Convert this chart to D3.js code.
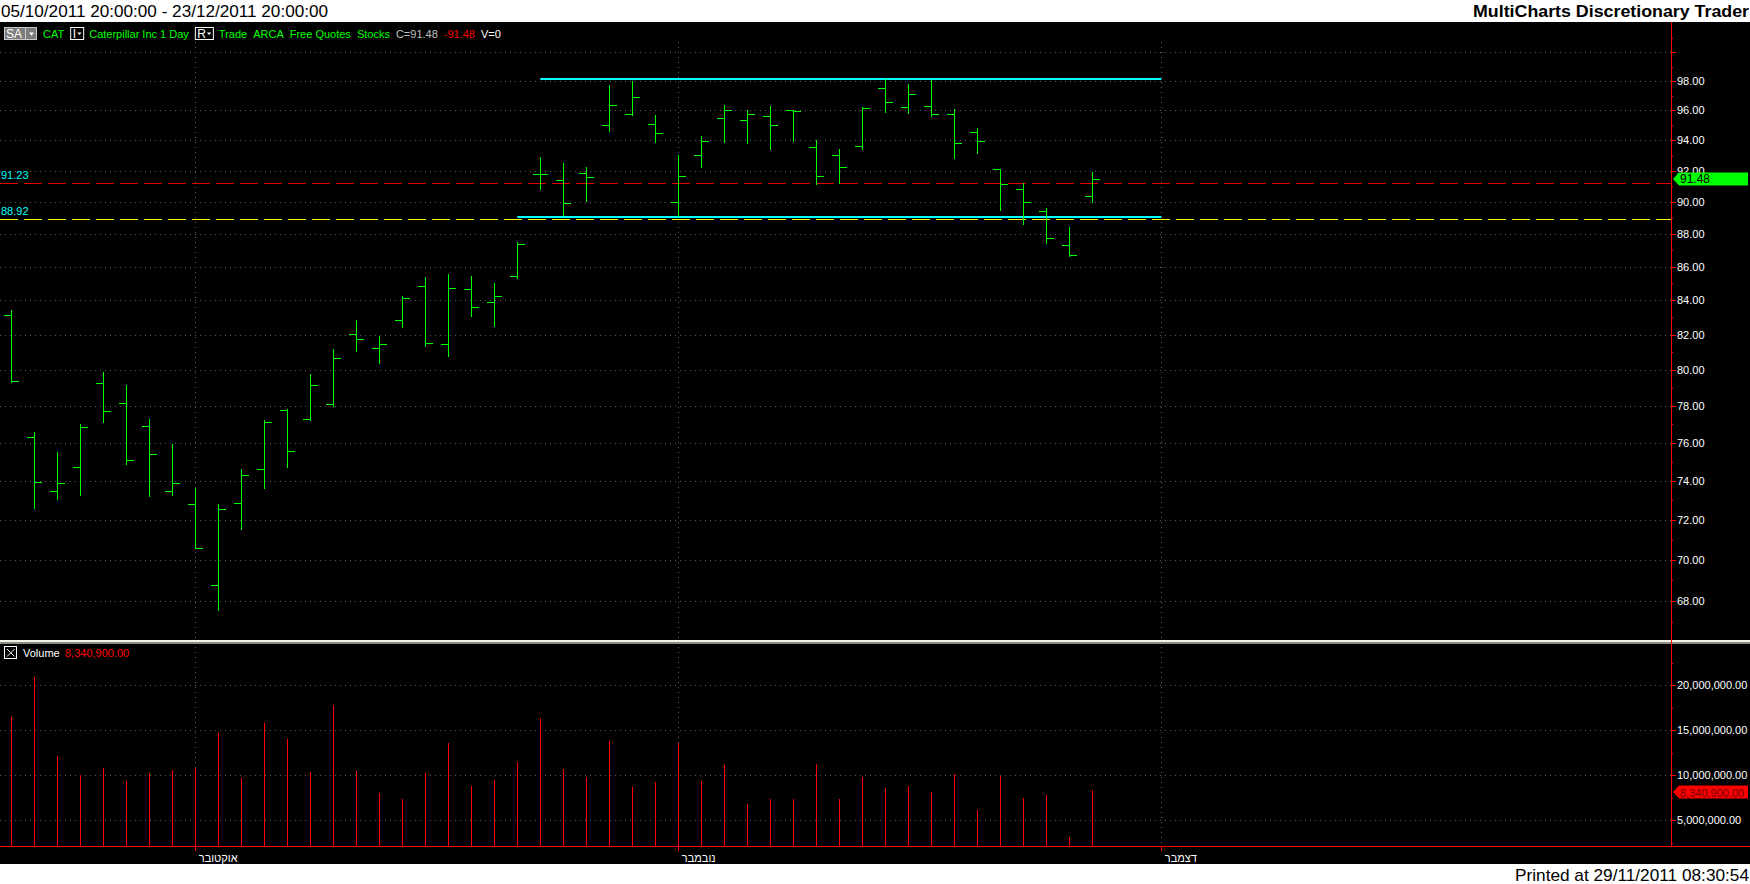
<!DOCTYPE html>
<html>
<head>
<meta charset="utf-8">
<script src="https://cdn.jsdelivr.net/npm/d3@7"></script>
<style>
    body { margin: 0; background: #fff; overflow: hidden; }
    svg { display: block; }
    text { font-family: "Liberation Sans", Arial, sans-serif; }
</style>
</head>
<body>
<svg id="chart"></svg>
<script>
(function () {

    // CAT daily bars, 21/09/2011 .. 28/11/2011
    var dates = [
        "2011-09-21", "2011-09-22", "2011-09-23", "2011-09-26", "2011-09-27", "2011-09-28", "2011-09-29", "2011-09-30",
        "2011-10-03", "2011-10-04", "2011-10-05", "2011-10-06", "2011-10-07", "2011-10-10", "2011-10-11", "2011-10-12",
        "2011-10-13", "2011-10-14", "2011-10-17", "2011-10-18", "2011-10-19", "2011-10-20", "2011-10-21", "2011-10-24",
        "2011-10-25", "2011-10-26", "2011-10-27", "2011-10-28", "2011-10-31", "2011-11-01", "2011-11-02", "2011-11-03",
        "2011-11-04", "2011-11-07", "2011-11-08", "2011-11-09", "2011-11-10", "2011-11-11", "2011-11-14", "2011-11-15",
        "2011-11-16", "2011-11-17", "2011-11-18", "2011-11-21", "2011-11-22", "2011-11-23", "2011-11-25", "2011-11-28"
    ];
    // trading days after the last bar, still on the time axis
    var futureDates = ["2011-11-29", "2011-11-30", "2011-12-01"];

    var opens = [83.12, 76.29, 73.46, 74.70, 79.25, 78.14, 76.88, 73.46, 72.78, 68.76, 72.83, 74.60, 77.76, 77.27, 78.08, 82.02,
                 81.22, 82.84, 84.83, 81.45, 84.65, 83.89, 85.44, 91.78, 91.40, 91.84, 95.00, 95.73, 95.06, 89.99, 93.01, 95.47,
                 95.33, 95.60, 96.00, 93.54, 93.01, 93.60, 97.50, 96.20, 96.27, 95.73, 94.53, 92.10, 90.82, 89.42, 87.31, 90.37];
    var highs = [83.44, 76.57, 75.51, 77.01, 79.88, 79.16, 77.28, 75.93, 73.63, 72.79, 74.61, 77.22, 77.83, 79.77, 81.17, 82.85,
                 81.92, 84.26, 85.39, 85.57, 85.46, 85.03, 87.51, 92.90, 92.51, 92.26, 97.73, 98.00, 95.69, 93.03, 94.29, 96.37,
                 96.02, 96.29, 96.00, 94.02, 93.43, 96.22, 98.12, 97.79, 98.07, 96.09, 94.82, 92.10, 91.20, 89.63, 88.44, 91.92];
    var lows = [79.28, 72.54, 73.01, 73.21, 77.08, 74.84, 73.18, 73.23, 70.52, 67.54, 71.49, 73.59, 74.68, 77.17, 77.95, 81.00,
                80.33, 82.38, 81.29, 80.72, 83.03, 82.44, 85.29, 90.78, 89.13, 90.01, 94.57, 95.64, 93.85, 89.09, 92.21, 93.85,
                93.78, 93.38, 93.91, 91.11, 91.18, 93.38, 95.84, 95.77, 95.57, 92.78, 93.12, 89.46, 88.58, 87.41, 86.62, 89.97];
    var closes = [79.36, 73.92, 73.87, 76.83, 77.71, 75.07, 75.39, 73.87, 70.57, 72.53, 74.28, 77.11, 75.55, 79.14, 80.64, 81.73,
                  81.45, 84.12, 81.51, 84.71, 83.59, 84.24, 87.37, 91.78, 89.93, 91.58, 96.35, 96.88, 94.46, 91.65, 93.93, 96.00,
                  95.73, 95.00, 95.93, 91.65, 92.23, 96.14, 96.54, 97.09, 95.73, 93.81, 93.93, 91.14, 89.99, 87.75, 86.70, 91.48];
    var volumes = [16410000, 20890000, 12110000, 9960000, 10780000, 9330000, 10190000, 10560000, 10780000, 14670000,
                   9670000, 15780000, 14000000, 10330000, 17780000, 10440000, 8000000, 7330000, 10190000, 13560000,
                   8780000, 9440000, 11440000, 16330000, 10670000, 9780000, 13780000, 8670000, 9220000, 13560000,
                   9330000, 11110000, 6780000, 7330000, 7330000, 11220000, 7330000, 9780000, 8560000, 8780000,
                   8110000, 10110000, 6110000, 9890000, 7440000, 7780000, 3110000, 8340900];

    // drawings on the chart
    var channelFrom = ["2011-10-24", "2011-10-21"];
    var channelTo = ["2011-12-01", "2011-12-01"];
    var channelPrice = [98.16, 89.09];
    var levelPrice = [91.23, 88.92];

    // axes
    var priceLabels = [66, 68, 70, 72, 74, 76, 78, 80, 82, 84, 86, 88, 90, 92, 94, 96, 98];
    var priceGrid = [68, 70, 72, 74, 76, 78, 80, 82, 84, 86, 88, 90, 92, 94, 96, 98, 100];
    var priceMinor = [67, 69, 71, 73, 75, 77, 79, 81, 83, 85, 87, 89, 91, 93, 95, 97, 99, 101];
    var volumeTicks = [5000000, 10000000, 15000000, 20000000];
    var volumeMinor = [2500000, 7500000, 12500000, 17500000, 22500000];
    var monthNames = {"10": "אוקטובר", "11": "נובמבר", "12": "דצמבר"};

    var titleText = "05/10/2011 20:00:00 - 23/12/2011 20:00:00",
        appText = "MultiCharts Discretionary Trader",
        printedText = "Printed at 29/11/2011 08:30:54";
    var toolbarItems = ["CAT", "|I", "Caterpillar Inc 1 Day", "|R", "Trade", "ARCA", "Free Quotes", "Stocks",
                        "C=91.48", "-91.48", "V=0"];


    var W = 1750, H = 884,
        axisX = 1671,
        paneTop = 22,
        sepY = 640,
        volBottom = 846,
        footerTop = 864,
        green = "#00ff00",
        grid = "#5c5c5c";

    var allDates = dates.concat(futureDates);
    function bar(d) { return allDates.indexOf(d); }

    var monthBars = [], monthLabels = [];
    allDates.forEach(function (d, i) {
        var m = d.slice(5, 7);
        if (i > 0 && allDates[i - 1].slice(5, 7) !== m && monthNames[m]) {
            monthBars.push(i);
            monthLabels.push(monthNames[m]);
        }
    });

    var x = d3.scaleLinear().domain([0, dates.length - 1]).range([11.3, 1092.3]),
        y = d3.scaleLog().domain([68, 98]).range([601, 81]),
        yv = d3.scaleLinear().domain([5000000, 20000000]).range([820, 685]);

    var svg = d3.select('#chart').attr('width', W).attr('height', H);

    svg.append('rect').attr('width', W).attr('height', H).style('fill', '#fff');
    svg.append('rect').attr('y', paneTop).attr('width', W).attr('height', footerTop - paneTop).style('fill', '#000');

    svg.append('clipPath').attr('id', 'priceClip')
        .append('rect').attr('x', 0).attr('y', paneTop).attr('width', W).attr('height', sepY - paneTop);

    // grid
    var gridG = svg.append('g')
        .style('stroke', grid).style('stroke-dasharray', '1,4').attr('shape-rendering', 'crispEdges');

    gridG.selectAll('line.pg').data(priceGrid).enter().append('line')
        .attr('x1', 0).attr('x2', axisX)
        .attr('y1', function (d) { return Math.round(y(d)) + 0.5; })
        .attr('y2', function (d) { return Math.round(y(d)) + 0.5; });

    gridG.selectAll('line.vg').data(volumeTicks).enter().append('line')
        .attr('x1', 0).attr('x2', axisX)
        .attr('y1', function (d) { return Math.round(yv(d)) + 0.5; })
        .attr('y2', function (d) { return Math.round(yv(d)) + 0.5; });

    gridG.selectAll('line.mg').data(monthBars).enter().append('line')
        .attr('x1', function (d) { return Math.round(x(d)) + 0.5; })
        .attr('x2', function (d) { return Math.round(x(d)) + 0.5; })
        .attr('y1', 42).attr('y2', volBottom);

    // horizontal levels
    var price = svg.append('g').attr('clip-path', 'url(#priceClip)');

    price.selectAll('line.level').data(levelPrice).enter().append('line')
        .attr('x1', 0).attr('x2', axisX)
        .attr('y1', function (d) { return Math.round(y(d)) + 0.5; })
        .attr('y2', function (d) { return Math.round(y(d)) + 0.5; })
        .attr('shape-rendering', 'crispEdges')
        .style('stroke-dasharray', '18,6')
        .style('stroke', function (d, i) { return i ? '#ffff00' : '#e00000'; });

    price.selectAll('text.level').data(levelPrice).enter().append('text')
        .attr('x', 1)
        .attr('y', function (d) { return y(d) - 4; })
        .style('font-size', '11px')
        .style('fill', '#00ffff')
        .text(function (d) { return d3.format('.2f')(d); });

    // channel lines
    price.selectAll('line.channel').data(channelPrice).enter().append('line')
        .attr('x1', function (d, i) { return x(bar(channelFrom[i])); })
        .attr('x2', function (d, i) { return x(bar(channelTo[i])); })
        .attr('y1', function (d) { return Math.round(y(d)); })
        .attr('y2', function (d) { return Math.round(y(d)); })
        .style('stroke', '#00ffff').style('stroke-width', 2);

    // OHLC bars
    var bars = price.append('g').style('stroke', green).attr('shape-rendering', 'crispEdges')
        .selectAll('g').data(dates).enter().append('g');

    bars.append('line')
        .attr('x1', function (d, i) { return Math.round(x(i)) + 0.5; })
        .attr('x2', function (d, i) { return Math.round(x(i)) + 0.5; })
        .attr('y1', function (d, i) { return y(highs[i]); })
        .attr('y2', function (d, i) { return y(lows[i]); });
    bars.append('line')
        .attr('x1', function (d, i) { return Math.round(x(i)) - 7; })
        .attr('x2', function (d, i) { return Math.round(x(i)); })
        .attr('y1', function (d, i) { return Math.round(y(opens[i])) + 0.5; })
        .attr('y2', function (d, i) { return Math.round(y(opens[i])) + 0.5; });
    bars.append('line')
        .attr('x1', function (d, i) { return Math.round(x(i)) + 1; })
        .attr('x2', function (d, i) { return Math.round(x(i)) + 8; })
        .attr('y1', function (d, i) { return Math.round(y(closes[i])) + 0.5; })
        .attr('y2', function (d, i) { return Math.round(y(closes[i])) + 0.5; });

    // volume
    svg.append('g').style('stroke', '#ff0000').attr('shape-rendering', 'crispEdges')
        .selectAll('line').data(volumes).enter().append('line')
        .attr('x1', function (d, i) { return Math.round(x(i)) + 0.5; })
        .attr('x2', function (d, i) { return Math.round(x(i)) + 0.5; })
        .attr('y1', function (d) { return yv(d); })
        .attr('y2', volBottom);

    // pane separator
    svg.append('rect').attr('x', 0).attr('y', sepY).attr('width', W).attr('height', 2).style('fill', '#f2f2ea');
    svg.append('rect').attr('x', 0).attr('y', sepY + 2).attr('width', W).attr('height', 2).style('fill', '#8c8c82');

    // price axis
    var pAxis = svg.append('g').attr('clip-path', 'url(#priceClip)')
        .append('g').attr('transform', 'translate(' + axisX + ',0)');
    pAxis.call(d3.axisRight(y).tickValues(priceLabels).tickFormat(d3.format('.2f')).tickSize(5).tickPadding(1));
    pAxis.append('g').call(d3.axisRight(y).tickValues(priceMinor).tickFormat('').tickSize(2));
    pAxis.append('g').call(d3.axisRight(y).tickValues([100]).tickFormat('').tickSize(5));

    var vAxis = svg.append('g').attr('transform', 'translate(' + axisX + ',0)');
    vAxis.call(d3.axisRight(yv).tickValues(volumeTicks).tickFormat(d3.format(',.2f')).tickSize(5).tickPadding(1));
    vAxis.append('g').call(d3.axisRight(yv).tickValues(volumeMinor).tickFormat('').tickSize(2));

    svg.selectAll('.domain').remove();
    svg.selectAll('.tick line').style('stroke', '#ff0000').attr('shape-rendering', 'crispEdges');
    svg.selectAll('.tick text').style('fill', '#fff').style('font-size', '11px')
        .style('font-family', '"Liberation Sans", Arial, sans-serif');

    // time axis
    var tAxis = svg.append('g').attr('transform', 'translate(0,' + volBottom + ')');
    tAxis.call(d3.axisBottom(x).tickValues(monthBars).tickSize(5).tickPadding(3)
        .tickFormat(function (d, i) { return monthLabels[i]; }));
    tAxis.select('.domain').remove();
    tAxis.selectAll('.tick line').style('stroke', '#ff0000').attr('shape-rendering', 'crispEdges');
    tAxis.selectAll('.tick text').style('fill', '#fff').style('font-size', '11px')
        .style('font-family', '"Liberation Sans", Arial, sans-serif')
        .attr('text-anchor', 'start').attr('x', 3);

    svg.append('line').attr('x1', 0).attr('x2', W).attr('y1', volBottom + 0.5).attr('y2', volBottom + 0.5)
        .attr('shape-rendering', 'crispEdges').style('stroke', '#ff0000');
    svg.append('line').attr('x1', axisX + 0.5).attr('x2', axisX + 0.5).attr('y1', paneTop).attr('y2', volBottom)
        .attr('shape-rendering', 'crispEdges').style('stroke', '#ff0000');

    // last value markers
    function marker(yPos, fill, color, label, size) {
        var h = 13, x0 = axisX + 2;
        svg.append('path')
            .attr('d', 'M' + x0 + ',' + yPos + 'L' + (x0 + 6) + ',' + (yPos - h / 2) + 'H' + (W - 2) +
                  'V' + (yPos + h / 2) + 'H' + (x0 + 6) + 'Z')
            .style('fill', fill);
        svg.append('text').attr('x', x0 + 7).attr('y', yPos + 4.5)
            .style('font-size', size).style('fill', color).text(label);
    }
    var last = dates.length - 1;
    marker(y(closes[last]), '#00ff00', '#000', d3.format('.2f')(closes[last]), '12px');
    marker(Math.round(yv(volumes[last])) + 2, '#ff0000', '#6a0000', d3.format(',.2f')(volumes[last]), '11px');

    // volume legend
    var leg = svg.append('g');
    leg.append('rect').attr('x', 4.5).attr('y', 646.5).attr('width', 12).attr('height', 12)
        .style('fill', 'none').style('stroke', '#fff');
    leg.append('path').attr('d', 'M7,649L14.5,656.5M14.5,649L7,656.5').style('stroke', '#fff');
    leg.append('text').attr('x', 23).attr('y', 657).style('font-size', '11px').style('fill', '#fff').text('Volume');
    leg.append('text').attr('x', 65).attr('y', 657).style('font-size', '11px').style('fill', '#ff0000')
        .text(d3.format(',.2f')(volumes[last]));

    // toolbar
    var tb = svg.append('g').style('font-size', '11px');
    tb.append('rect').attr('x', 4.5).attr('y', 27.5).attr('width', 32).attr('height', 12)
        .style('fill', '#7c7c7c').style('stroke', '#c8c8c8');
    tb.append('line').attr('x1', 25.5).attr('x2', 25.5).attr('y1', 28).attr('y2', 39).style('stroke', '#c8c8c8');
    tb.append('path').attr('d', 'M29,32.5H34L31.5,35.5Z').style('fill', '#fff');
    tb.append('text').attr('x', 6).attr('y', 38).style('font-size', '12px').style('fill', '#fff').text('SA');

    var cx = 43;
    toolbarItems.forEach(function (t) {
        if (t.charAt(0) === '|') {
            var letter = t.slice(1),
                bw = letter === 'I' ? 13 : 18;
            tb.append('rect').attr('x', cx + 0.5).attr('y', 27.5).attr('width', bw).attr('height', 12)
                .style('fill', '#000').style('stroke', '#fff');
            tb.append('text').attr('x', cx + 2.5).attr('y', 38).style('font-size', '12px').style('fill', '#fff')
                .text(letter);
            tb.append('path').attr('d', 'M' + (cx + bw - 6) + ',32.5H' + (cx + bw - 1.5) + 'L' + (cx + bw - 3.75) + ',35Z')
                .style('fill', '#fff');
            cx += bw + 6;
            return;
        }
        var color = green;
        if (t.indexOf('C=') === 0) color = '#c0c0c0';
        else if (t.charAt(0) === '-') color = '#ff0000';
        else if (t.indexOf('V=') === 0) color = '#fff';
        var node = tb.append('text').attr('x', cx).attr('y', 37.5).style('fill', color).text(t);
        cx += node.node().getComputedTextLength() + 6;
    });

    // header / footer
    svg.append('text').attr('x', 1).attr('y', 17).style('font-size', '17px').style('fill', '#000')
        .attr('textLength', 327).attr('lengthAdjust', 'spacingAndGlyphs').text(titleText);
    svg.append('text').attr('x', W - 1).attr('y', 17).attr('text-anchor', 'end')
        .style('font-size', '16px').style('font-weight', 'bold').style('fill', '#000')
        .attr('textLength', 276).attr('lengthAdjust', 'spacingAndGlyphs').text(appText);
    svg.append('text').attr('x', W - 1).attr('y', 881).attr('text-anchor', 'end')
        .style('font-size', '17px').style('fill', '#000')
        .attr('textLength', 234).attr('lengthAdjust', 'spacingAndGlyphs').text(printedText);

}());
</script>
</body>
</html>
